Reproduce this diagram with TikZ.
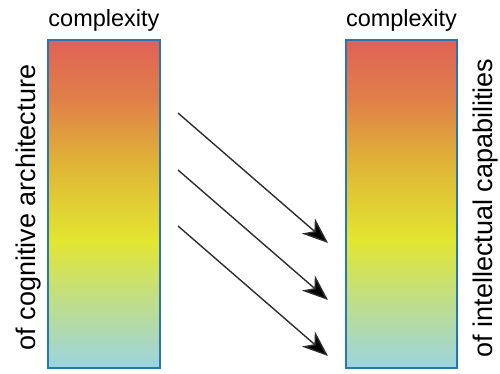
\documentclass[tikz,border=0pt]{standalone}
\usepackage{fontspec}
\setmainfont{Liberation Sans}
\usetikzlibrary{arrows.meta}
\definecolor{barborder}{RGB}{40,120,175}
\definecolor{arrowcol}{RGB}{45,45,45}
\definecolor{gbottom}{RGB}{155,212,225}
\definecolor{ggreen}{RGB}{192,222,135}
\definecolor{gyellow}{RGB}{226,230,48}
\definecolor{gorange}{RGB}{224,178,55}
\definecolor{gred}{RGB}{224,128,72}
\definecolor{gtop}{RGB}{224,98,85}
\pgfdeclareverticalshading{barshade}{100bp}{%
  color(0bp)=(gbottom);
  color(25bp)=(gbottom);
  color(35.4bp)=(ggreen);
  color(44.5bp)=(gyellow);
  color(56.7bp)=(gorange);
  color(65.85bp)=(gred);
  color(75bp)=(gtop);
  color(100bp)=(gtop)}
\tikzset{
  bar/.style={draw=barborder, line width=2pt, shading=barshade},
  toplabel/.style={anchor=base, font=\fontsize{23.5}{26}\selectfont},
  sidelabel/.style={anchor=base, rotate=90, font=\fontsize{27}{30}\selectfont},
  link/.style={draw=arrowcol, line width=1.4pt,
    -{Stealth[length=26pt, width=20pt, inset=8pt, fill=black]}}
}
\begin{document}
\begin{tikzpicture}[x=1pt, y=-1pt]
\useasboundingbox (0,0) rectangle (500,374);
\path[bar] (48,40) rectangle (160,368);
\path[bar] (346,40) rectangle (457,368);
\node[toplabel] (cl) at (104,27) {complexity};
\node[toplabel] (cr) at (401.5,27) {complexity};
\node[sidelabel] (sl) at (35,207.5) {of cognitive architecture};
\node[sidelabel] (sr) at (492,208) {of intellectual capabilities};
\coordinate (a1) at (178,113);
\coordinate (b1) at (328,243);
\coordinate (a2) at (178,170);
\coordinate (b2) at (328,300);
\coordinate (a3) at (178,226);
\coordinate (b3) at (328,356);
\draw[link] (a1) -- (b1);
\draw[link] (a2) -- (b2);
\draw[link] (a3) -- (b3);
\end{tikzpicture}
\end{document}
